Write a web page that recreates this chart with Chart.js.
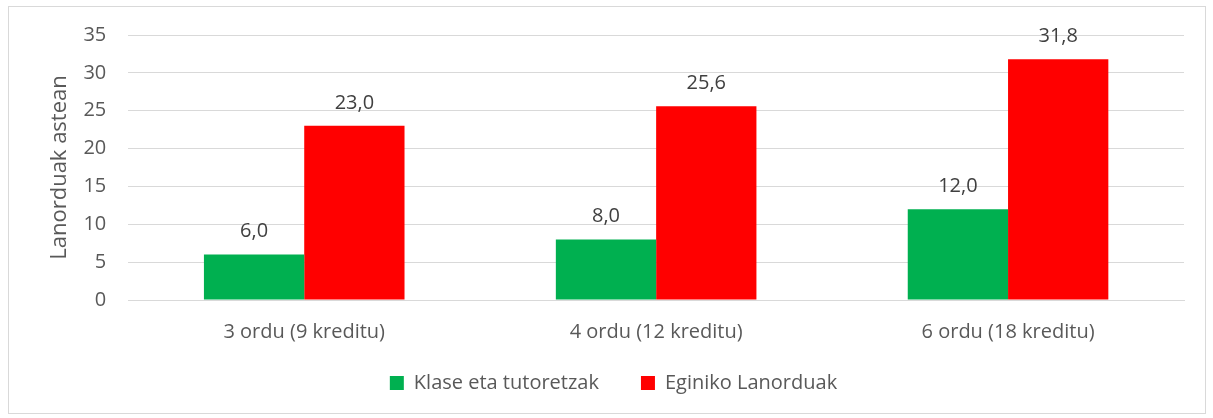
<!DOCTYPE html>
<html>
<head>
<meta charset="utf-8">
<script src="https://cdn.jsdelivr.net/npm/chart.js@4"></script>
<style>
  body { margin: 0; background: #fff; }
  .box { position: absolute; left: 8px; top: 6px; width: 1196px; height: 406px; border: 1px solid #d9d9d9; }
</style>
</head>
<body>
<div class="box"><canvas id="lanChart" width="1196" height="406"></canvas></div>
<script>
const categories = ['3 ordu (9 kreditu)', '4 ordu (12 kreditu)', '6 ordu (18 kreditu)'];
const klaseak = [6.0, 8.0, 12.0];
const eginikoak = [23.0, 25.6, 31.8];
const yTicks = [0, 5, 10, 15, 20, 25, 30, 35];

const fontFam = "'Open Sans', 'Liberation Sans', sans-serif";
const LEGEND_PULL = 25;

// data labels above each bar, comma decimal
const barLabels = {
  id: 'barLabels',
  afterDatasetsDraw(chart) {
    const ctx = chart.ctx;
    ctx.save();
    ctx.font = '20px ' + fontFam;
    ctx.fillStyle = '#404040';
    ctx.textAlign = 'center';
    ctx.textBaseline = 'bottom';
    chart.data.datasets.forEach((ds, i) => {
      chart.getDatasetMeta(i).data.forEach((bar, j) => {
        ctx.fillText(ds.data[j].toFixed(1).replace('.', ','), bar.x, bar.y - 13);
      });
    });
    ctx.restore();
  }
};

// legend padding is used both ways; keep wide gaps between items but less space on top
const legendShift = {
  id: 'legendShift',
  beforeLayout(chart) {
    const lg = chart.legend;
    if (!lg || lg._shifted) return;
    lg._shifted = true;
    const fit = lg.fit, draw = lg.draw;
    lg.fit = function () { fit.call(this); this.height -= LEGEND_PULL; };
    lg.draw = function () {
      const top = this.top, h = this.height;
      this.top = top - LEGEND_PULL;
      this.height = h + LEGEND_PULL;
      draw.call(this);
      this.top = top;
      this.height = h;
    };
  }
};

new Chart(document.getElementById('lanChart'), {
  type: 'bar',
  data: {
    labels: categories,
    datasets: [{
      label: 'Klase eta tutoretzak',
      data: klaseak,
      backgroundColor: '#00b050'
    }, {
      label: 'Eginiko Lanorduak',
      data: eginikoak,
      backgroundColor: '#ff0000'
    }]
  },
  options: {
    responsive: false,
    animation: false,
    layout: { padding: { left: 34, right: 21, top: 7, bottom: 10 } },
    datasets: { bar: { categoryPercentage: 0.57, barPercentage: 1.0 } },
    plugins: {
      legend: {
        position: 'bottom',
        labels: {
          boxWidth: 14, boxHeight: 14, padding: 42,
          color: '#595959',
          font: { family: fontFam, size: 20 }
        }
      },
      tooltip: { enabled: false }
    },
    scales: {
      x: {
        grid: { display: false },
        border: { color: '#d9d9d9' },
        ticks: { color: '#595959', font: { family: fontFam, size: 20 }, padding: 12 }
      },
      y: {
        min: 0, max: 35,
        afterBuildTicks(axis) { axis.ticks = yTicks.map(v => ({ value: v })); },
        afterFit(axis) { axis.paddingTop = 28; },
        grid: { color: '#d9d9d9', drawTicks: false },
        border: { display: false },
        ticks: { color: '#595959', font: { family: fontFam, size: 20 }, padding: 22 },
        title: {
          display: true, text: 'Lanorduak astean', color: '#595959',
          font: { family: fontFam, size: 22 }, padding: { top: 4, bottom: -12 }
        }
      }
    }
  },
  plugins: [barLabels, legendShift]
});
</script>
</body>
</html>
